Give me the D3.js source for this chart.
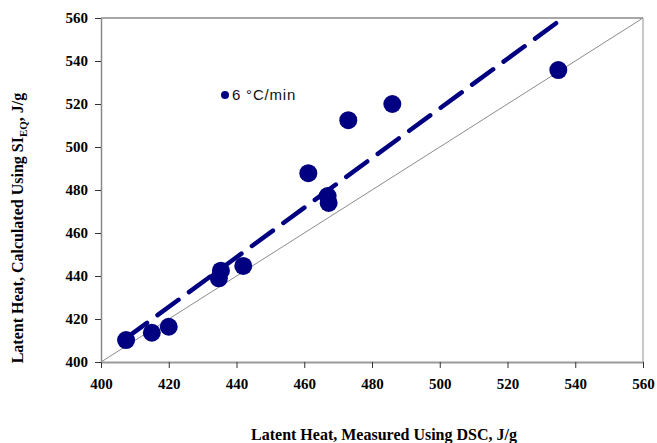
<!DOCTYPE html>
<html><head><meta charset="utf-8">
<script src="https://cdn.jsdelivr.net/npm/d3@7"></script>
<style>body{margin:0;background:#fff}svg{display:block}</style>
</head><body>
<script>
const measured = [407.4, 415, 420, 434.8, 435.4, 442, 461.2, 466.9, 467.2, 473, 486, 535];
const calculated = [410.2, 413.6, 416.4, 438.9, 442.5, 444.7, 487.8, 477.2, 474, 512.5, 520, 535.8];
const xTicks = [400, 420, 440, 460, 480, 500, 520, 540, 560];
const yTicks = [400, 420, 440, 460, 480, 500, 520, 540, 560];
const seriesName = "6 °C/min";

const W = 657, H = 443;
const m = {left: 101, top: 18, right: 643, bottom: 362};
const svg = d3.select("body").append("svg").attr("width", W).attr("height", H);
const x = d3.scaleLinear().domain([400, 560]).range([m.left, m.right]);
const y = d3.scaleLinear().domain([400, 560]).range([m.bottom, m.top]);

// frame
svg.append("line").attr("x1", m.left).attr("x2", m.right).attr("y1", m.top).attr("y2", m.top)
  .attr("stroke", "#8a8a8a").attr("stroke-width", 1.5);
svg.append("line").attr("x1", m.right).attr("x2", m.right).attr("y1", m.top).attr("y2", m.bottom)
  .attr("stroke", "#c8c8c8").attr("stroke-width", 2);

// 1:1 line
svg.append("line").attr("x1", x(400)).attr("y1", y(400)).attr("x2", x(560)).attr("y2", y(560))
  .attr("stroke", "#8c8c8c").attr("stroke-width", 1);

// regression trendline
const mx = d3.mean(measured), my = d3.mean(calculated);
const sxy = d3.sum(measured, (v, i) => (v - mx) * (calculated[i] - my));
const sxx = d3.sum(measured, v => (v - mx) * (v - mx));
const slope = sxy / sxx, icpt = my - slope * mx;
const [x0, x1] = d3.extent(measured);
svg.append("line").attr("x1", x(x0)).attr("y1", y(icpt + slope * x0))
  .attr("x2", x(x1)).attr("y2", y(icpt + slope * x1))
  .attr("stroke", "#000080").attr("stroke-width", 4.5)
  .attr("stroke-dasharray", "26 13").attr("stroke-linecap", "round");

// axes
const xa = svg.append("g").attr("transform", `translate(0,${m.bottom})`)
  .call(d3.axisBottom(x).tickValues(xTicks).tickSize(6).tickSizeOuter(0).tickPadding(10));
const ya = svg.append("g").attr("transform", `translate(${m.left},0)`)
  .call(d3.axisLeft(y).tickValues(yTicks).tickSize(6).tickSizeOuter(0).tickPadding(7));
[xa, ya].forEach(g => {
  g.selectAll("text").attr("font-family", "'Liberation Serif','Times New Roman',serif")
    .attr("font-weight", "bold").attr("font-size", 15).attr("fill", "#000");
  g.selectAll(".tick line").attr("stroke", "#333");
});
xa.select(".domain").attr("stroke", "#9a9a9a").attr("stroke-width", 2);
ya.select(".domain").attr("stroke", "#8a8a8a").attr("stroke-width", 1.5);

// points
svg.append("g").selectAll("circle").data(measured).join("circle")
  .attr("cx", d => x(d)).attr("cy", (d, i) => y(calculated[i])).attr("r", 9)
  .attr("fill", "#000080");

// legend
svg.append("circle").attr("cx", 225).attr("cy", 95).attr("r", 4).attr("fill", "#000080");
svg.append("text").attr("x", 232).attr("y", 100).text(seriesName)
  .attr("font-family", "'Liberation Sans',Arial,sans-serif").attr("font-size", 15)
  .attr("letter-spacing", 0.8).attr("fill", "#111");

// titles
svg.append("text").attr("x", 384).attr("y", 440).attr("text-anchor", "middle")
  .attr("font-family", "'Liberation Serif','Times New Roman',serif").attr("font-weight", "bold")
  .attr("font-size", 16).text("Latent Heat, Measured Using DSC, J/g");
const yt = svg.append("text").attr("transform", "translate(23,228) rotate(-90)").attr("text-anchor", "middle")
  .attr("font-family", "'Liberation Serif','Times New Roman',serif").attr("font-weight", "bold")
  .attr("font-size", 16);
yt.append("tspan").text("Latent Heat, Calculated Using SI");
yt.append("tspan").attr("font-size", 11).attr("dy", 4).text("EQ");
yt.append("tspan").attr("dy", -4).text(", J/g");
</script>
</body></html>
